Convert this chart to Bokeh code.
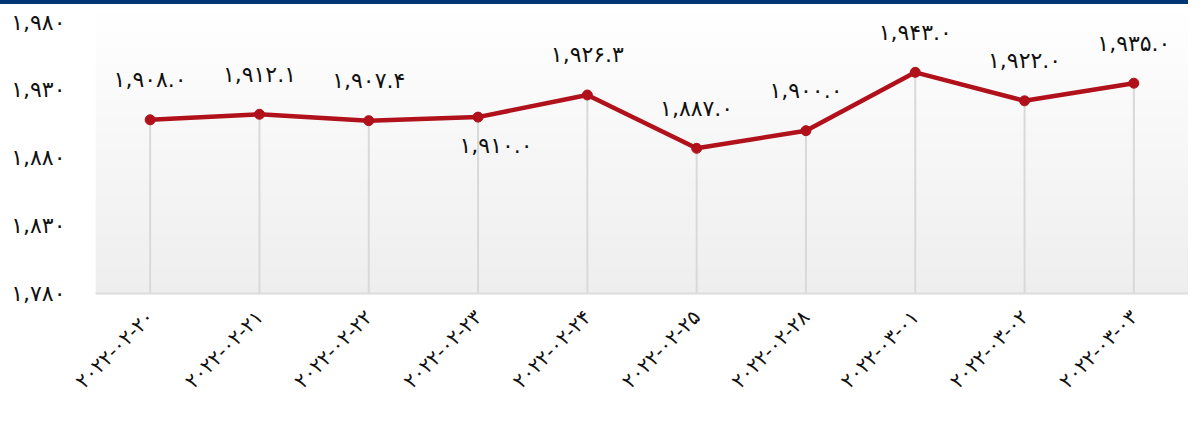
import numpy as np
from bokeh.plotting import figure
from bokeh.models import FactorRange, Range1d, FixedTicker, ColumnDataSource, Div
from bokeh.layouts import column
from bokeh.core.properties import value
from bokeh.embed import file_html
from bokeh.resources import INLINE

FA = str.maketrans("0123456789", "۰۱۲۳۴۵۶۷۸۹")

def fa(s):
    return s.translate(FA)

dates = ["2022-02-20", "2022-02-21", "2022-02-22", "2022-02-23", "2022-02-24",
         "2022-02-25", "2022-02-28", "2022-03-01", "2022-03-02", "2022-03-03"]
prices = [1908.0, 1912.1, 1907.4, 1910.0, 1926.3, 1887.0, 1900.0, 1943.0, 1922.0, 1935.0]
label_pos = ["above", "above", "above", "below", "above", "above", "above", "above", "above", "above"]
y_ticks = [1780, 1830, 1880, 1930, 1980]

FONT = "DejaVu Sans"
RED = "#b0111b"

cats = [fa(d) for d in dates]
y_start, y_end = 1780, 1993

p = figure(width=1188, height=401, output_backend="svg", toolbar_location=None,
           x_range=FactorRange(*cats, range_padding=0),
           y_range=Range1d(y_start, y_end),
           min_border_left=95, min_border_right=0, min_border_top=0,
           min_border_bottom=112, margin=0)
p.outline_line_color = None
p.background_fill_color = "white"
p.border_fill_color = "white"

# vertical gradient background for the frame
n = 64
grad = np.zeros((n, 1), dtype=np.uint32)
view = grad.view(dtype=np.uint8).reshape((n, 1, 4))
for i in range(n):
    t = i / (n - 1)  # 0 bottom -> 1 top
    c = int(round(0xEE + (0xFF - 0xEE) * t))
    view[i, 0, :] = [c, c, c, 255]
p.image_rgba(image=[grad], x=0, y=y_start, dw=len(cats), dh=y_end - y_start)

src = ColumnDataSource(dict(
    x=cats, y=prices, base=[y_start] * len(prices),
    lbl=[fa(f"{v:,.1f}") for v in prices],
    yo=[-40 if pos == "above" else 28 for pos in label_pos],
    xo=[0 if pos == "above" else 18 for pos in label_pos],
))

p.segment(x0="x", y0="y", x1="x", y1="base", source=src,
          line_color="#d9d9d9", line_width=2)
p.line(x="x", y="y", source=src, line_color=RED, line_width=4.5)
p.scatter(x="x", y="y", source=src, size=10, fill_color=RED, line_color=RED)
p.text(x="x", y="y", text="lbl", source=src, x_offset="xo", y_offset="yo",
       text_align="center", text_baseline="middle",
       text_font=value(FONT), text_font_size="22px", text_color="#111111")

p.xgrid.grid_line_color = None
p.ygrid.grid_line_color = None

p.yaxis.ticker = FixedTicker(ticks=y_ticks)
p.yaxis.major_label_overrides = {t: fa(f"{t:,}") for t in y_ticks}
p.yaxis.axis_line_color = None
p.yaxis.major_tick_line_color = None
p.yaxis.minor_tick_line_color = None
p.yaxis.major_label_text_font = FONT
p.yaxis.major_label_text_font_size = "22px"
p.yaxis.major_label_text_color = "#111111"
p.yaxis.major_label_standoff = 24

p.xaxis.axis_line_color = "#dcdcdc"
p.xaxis.axis_line_width = 2
p.xaxis.major_tick_line_color = None
p.xaxis.major_label_orientation = np.pi / 4
p.xaxis.major_label_text_font = FONT
p.xaxis.major_label_text_font_size = "20px"
p.xaxis.major_label_text_color = "#111111"
p.xaxis.major_label_standoff = 14

bar = Div(width=1188, height=4, margin=0,
          styles={"background-color": "#003673"})
layout = column(bar, p, spacing=0, margin=0)

open("out.html", "w").write(file_html(layout, INLINE))
